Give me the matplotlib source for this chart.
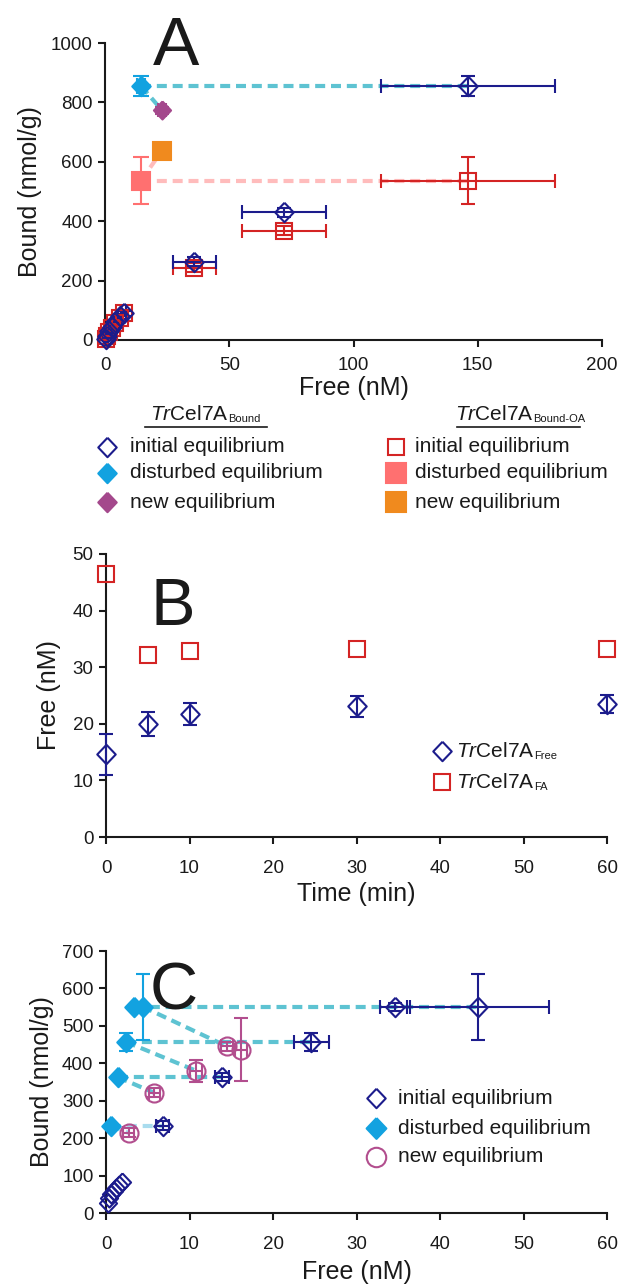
import matplotlib
matplotlib.use('Agg')
import matplotlib.pyplot as plt
from matplotlib.lines import Line2D

plt.rcParams['font.family'] = ['Liberation Sans', 'DejaVu Sans']
plt.rcParams['mathtext.fontset'] = 'custom'
plt.rcParams['mathtext.rm'] = 'Liberation Sans'
plt.rcParams['mathtext.it'] = 'Liberation Sans:italic'

# ---------------- data ----------------
# Panel A
a_init_x = [0.4, 1.0, 1.8, 2.8, 4.2, 6.0, 7.5, 36, 72, 146]
a_init_y = [5, 15, 30, 45, 62, 80, 90, 264, 430, 855]
a_init_xerr = [0.2, 0.3, 0.4, 0.5, 0.6, 0.8, 1.0, 8.5, 17, 35]
a_init_yerr = [3, 4, 5, 6, 7, 8, 9, 15, 15, 35]
a_oa_x = [0.4, 1.0, 1.8, 2.8, 4.2, 6.0, 7.5, 36, 72, 146]
a_oa_y = [2, 14, 28, 42, 58, 75, 90, 244, 368, 537]
a_oa_xerr = [0.2, 0.3, 0.4, 0.5, 0.6, 0.8, 1.0, 8.5, 17, 35]
a_oa_yerr = [3, 4, 5, 6, 7, 8, 9, 15, 15, 80]
a_dist_x, a_dist_y, a_dist_yerr = [14.5], [855], [35]
a_new_x, a_new_y, a_new_err = [23], [773], [12]
a_oadist_x, a_oadist_y, a_oadist_yerr = [14.5], [537], [80]
a_oanew_x, a_oanew_y = [23], [638]

# Panel B
b_time = [0, 5, 10, 30, 60]
b_free = [14.6, 20.0, 21.7, 23.1, 23.5]
b_free_err = [3.6, 2.1, 1.9, 1.9, 1.6]
b_fa = [46.5, 32.2, 32.9, 33.2, 33.2]

# Panel C
c_low_x = [0.2, 0.4, 0.6, 0.9, 1.2, 1.5, 1.9]
c_low_y = [28, 40, 50, 60, 68, 76, 82]
c_init_x = [6.8, 13.9, 24.6, 34.6, 44.6]
c_init_y = [233, 363, 457, 551, 551]
c_init_xerr = [0.8, 0.8, 2.1, 1.8, 8.5]
c_init_yerr = [12, 10, 25, 10, 88]
c_dist_x = [0.6, 1.4, 2.4, 3.3, 4.4]
c_dist_y = [233, 363, 457, 551, 551]
c_dist_yerr = [0, 0, 25, 0, 88]
c_new_x = [2.7, 5.8, 10.8, 14.5, 16.2]
c_new_y = [214, 321, 380, 445, 436]
c_new_xerr = [0.7, 0.7, 0.7, 0.7, 0.7]
c_new_yerr = [12, 12, 30, 12, 84]
# connectors: (disturbed index, initial index) and (disturbed index, new index)
c_links_h = [(0, 0), (1, 1), (2, 2), (3, 4)]
c_links_d = [(0, 0), (1, 1), (2, 2), (4, 3)]

# ---------------- style ----------------
navy = '#1c1c8c'
red = '#d42424'
cyan = '#12a2e0'
dcyan = '#5ec3d2'
lcyan = '#a9dcee'
purple = '#a4488c'
salmon = '#ff7070'
dpink = '#ffbcbc'
orange = '#f08a1e'
circ = '#b24e8e'
txt = '#1a1a1a'

DIA = [(0, 1), (0.95, 0), (0, -1), (-0.95, 0), (0, 1)]

W, H = 627, 1288
fig = plt.figure(figsize=(W / 100, H / 100), dpi=100)


def fx(x):
    return x / W


def fy(y):
    return 1 - y / H


def make_ax(l, r, t, b, xpad):
    ax = fig.add_axes([fx(l), fy(b), fx(r) - fx(l), fy(t) - fy(b)])
    for s in ['top', 'right']:
        ax.spines[s].set_visible(False)
    for s in ['left', 'bottom']:
        ax.spines[s].set_linewidth(1.5)
        ax.spines[s].set_color(txt)
    ax.tick_params(direction='out', length=5, width=1.5, labelsize=13.5,
                   colors=txt, pad=4)
    ax.tick_params(axis='x', pad=xpad)
    return ax


def eb(ax, x, y, xerr=None, yerr=None, color='k', marker=DIA, ms=14,
       mfc='none', mew=1.5, z=4, cs=5):
    ax.errorbar(x, y, xerr=xerr, yerr=yerr, fmt='none', ecolor=color,
                elinewidth=1.5, capsize=cs, capthick=1.5, zorder=z, clip_on=False)
    ax.plot(x, y, linestyle='none', marker=marker, ms=ms, mfc=mfc, mec=color,
            mew=mew, zorder=z + 0.5, clip_on=False)


DASH = (0, (2.4, 1.4))

# ---------------- Panel A ----------------
axA = make_ax(105, 602, 43, 340, 7.5)
axA.set_xlim(0, 200)
axA.set_ylim(0, 1000)
axA.set_xticks([0, 50, 100, 150, 200])
axA.set_yticks([0, 200, 400, 600, 800, 1000])
axA.set_xlabel('Free (nM)', fontsize=18, color=txt, labelpad=1)
axA.set_ylabel('Bound (nmol/g)', fontsize=18, color=txt, labelpad=6)

axA.plot([a_dist_x[0], a_init_x[-1]], [a_dist_y[0], a_init_y[-1]],
         color=dcyan, lw=3, ls=DASH, zorder=2)
axA.plot([a_dist_x[0], a_new_x[0]], [a_dist_y[0], a_new_y[0]],
         color=dcyan, lw=3, ls=DASH, zorder=2)
axA.plot([a_oadist_x[0], a_oa_x[-1]], [a_oadist_y[0], a_oa_y[-1]],
         color=dpink, lw=3, ls=DASH, zorder=2)
axA.plot([a_oadist_x[0], a_oanew_x[0]], [a_oadist_y[0], a_oanew_y[0]],
         color=dpink, lw=3, ls=DASH, zorder=2)

eb(axA, a_oa_x, a_oa_y, a_oa_xerr, a_oa_yerr, color=red, marker='s', ms=12)
eb(axA, a_init_x, a_init_y, a_init_xerr, a_init_yerr, color=navy, ms=14)
eb(axA, a_dist_x, a_dist_y, [1.5], a_dist_yerr, color=cyan, ms=14, mfc=cyan, cs=6)
eb(axA, a_new_x, a_new_y, [1.5], a_new_err, color=purple, ms=13, mfc=purple)
eb(axA, a_oadist_x, a_oadist_y, None, a_oadist_yerr, color=salmon, marker='s',
   ms=13, mfc=salmon, cs=6)
eb(axA, a_oanew_x, a_oanew_y, None, None, color=orange, marker='s', ms=13,
   mfc=orange)

fig.text(fx(153), fy(65), 'A', fontsize=50, color=txt, va='baseline')


def header(xc, y, sub, fs=15, sfs=8):
    t = fig.text(fx(xc), fy(y), r'$\mathit{Tr}$Cel7A', fontsize=fs,
                 color=txt, ha='left', va='baseline')
    axA.annotate(sub, xy=(1, 0), xycoords=t, fontsize=sfs, color=txt,
                 ha='left', va='bottom', annotation_clip=False)
    return t


header(150, 420, 'Bound')
header(455, 420, 'Bound-OA')
fig.add_artist(Line2D([fx(145), fx(267)], [fy(427), fy(427)], color=txt, lw=1.2))
fig.add_artist(Line2D([fx(457), fx(580)], [fy(427), fy(427)], color=txt, lw=1.2))

rowsA = [447, 473, 502]
left_items = [(DIA, 'none', navy, 14, 'initial equilibrium'),
              (DIA, cyan, cyan, 14, 'disturbed equilibrium'),
              (DIA, purple, purple, 14, 'new equilibrium')]
right_items = [('s', 'none', red, 12, 'initial equilibrium'),
               ('s', salmon, salmon, 14, 'disturbed equilibrium'),
               ('s', orange, orange, 14, 'new equilibrium')]
for (m, fc, ec, ms, lab), y in zip(left_items, rowsA):
    fig.add_artist(Line2D([fx(107)], [fy(y)], marker=m, ms=ms, mfc=fc, mec=ec,
                          mew=1.5, ls='none'))
    fig.text(fx(130), fy(y), lab, fontsize=15, color=txt, va='center')
for (m, fc, ec, ms, lab), y in zip(right_items, rowsA):
    fig.add_artist(Line2D([fx(396)], [fy(y)], marker=m, ms=ms, mfc=fc, mec=ec,
                          mew=1.5, ls='none'))
    fig.text(fx(415), fy(y), lab, fontsize=15, color=txt, va='center')

# ---------------- Panel B ----------------
axB = make_ax(106, 607, 554, 837, 11.5)
axB.set_xlim(0, 60)
axB.set_ylim(0, 50)
axB.set_xticks(range(0, 61, 10))
axB.set_yticks(range(0, 51, 10))
axB.set_xlabel('Time (min)', fontsize=18, color=txt, labelpad=4)
axB.set_ylabel('Free (nM)', fontsize=18, color=txt, labelpad=8)
eb(axB, b_time, b_free, None, b_free_err, color=navy, ms=14)
eb(axB, b_time, b_fa, None, None, color=red, marker='s', ms=12)
fig.text(fx(150), fy(625), 'B', fontsize=48, color=txt, va='baseline')

for m, c, ms, sub, y in [(DIA, navy, 14, 'Free', 751), ('s', red, 12, 'FA', 782)]:
    fig.add_artist(Line2D([fx(442)], [fy(y)], marker=m, ms=ms, mfc='none',
                          mec=c, mew=1.5, ls='none'))
    t = fig.text(fx(456), fy(y + 6), r'$\mathit{Tr}$Cel7A', fontsize=15,
                 color=txt, va='baseline')
    axB.annotate(sub, xy=(1, 0), xycoords=t, fontsize=8, color=txt,
                 ha='left', va='bottom', annotation_clip=False)

# ---------------- Panel C ----------------
axC = make_ax(106, 607, 951, 1213, 11.5)
axC.set_xlim(0, 60)
axC.set_ylim(0, 700)
axC.set_xticks(range(0, 61, 10))
axC.set_yticks(range(0, 701, 100))
axC.set_xlabel('Free (nM)', fontsize=18, color=txt, labelpad=5)
axC.set_ylabel('Bound (nmol/g)', fontsize=18, color=txt, labelpad=6)

for i, j in c_links_h:
    col = lcyan if i == 0 else dcyan
    axC.plot([c_dist_x[i], c_init_x[j]], [c_dist_y[i], c_init_y[j]],
             color=col, lw=3, ls=DASH, zorder=2)
for i, j in c_links_d:
    col = lcyan if i == 0 else dcyan
    axC.plot([c_dist_x[i], c_new_x[j]], [c_dist_y[i], c_new_y[j]],
             color=col, lw=3, ls=DASH, zorder=2)

eb(axC, c_low_x, c_low_y, None, None, color=navy, ms=13)
eb(axC, c_init_x, c_init_y, c_init_xerr, c_init_yerr, color=navy, ms=14)
eb(axC, c_new_x, c_new_y, c_new_xerr, c_new_yerr, color=circ, marker='o', ms=13)
eb(axC, c_dist_x, c_dist_y, None, c_dist_yerr, color=cyan, ms=14, mfc=cyan)
fig.text(fx(150), fy(1010), 'C', fontsize=48, color=txt, va='baseline')

rowsC = [1098, 1128, 1157]
c_items = [(DIA, 'none', navy, 14, 'initial equilibrium'),
           (DIA, cyan, cyan, 15, 'disturbed equilibrium'),
           ('o', 'none', circ, 14, 'new equilibrium')]
for (m, fc, ec, ms, lab), y in zip(c_items, rowsC):
    fig.add_artist(Line2D([fx(376)], [fy(y)], marker=m, ms=ms, mfc=fc, mec=ec,
                          mew=1.5, ls='none'))
    fig.text(fx(398), fy(y), lab, fontsize=15, color=txt, va='center')

fig.savefig('out.png', dpi=100)
